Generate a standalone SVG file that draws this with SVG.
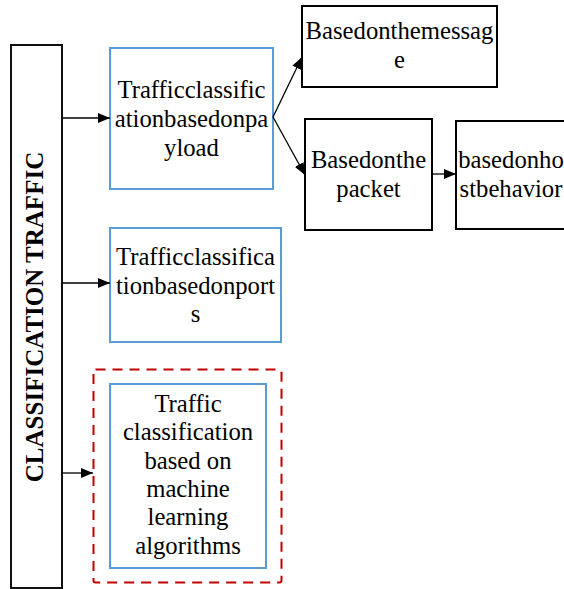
<svg xmlns="http://www.w3.org/2000/svg" width="564" height="589" viewBox="0 0 564 589">
<style>
.t{font-family:"Liberation Serif",serif;font-size:24.7px;fill:#000;text-anchor:middle}
.h{font-family:"Liberation Serif",serif;font-size:25px;font-weight:bold;fill:#000;text-anchor:middle}
.b{fill:#fff;stroke:#5B9BD5;stroke-width:2}
.k{fill:#fff;stroke:#000;stroke-width:2}
.c{fill:none;stroke:#000;stroke-width:1.3}
</style>
<defs>
<marker id="ah" viewBox="0 0 12 10" refX="12" refY="5" markerWidth="12" markerHeight="10" markerUnits="userSpaceOnUse" orient="auto">
<path d="M0,0 L12,5 L0,10 Z" fill="#000"/>
</marker>
</defs>
<g id="root">
<rect x="11" y="45" width="51" height="543" fill="#fff" stroke="#111" stroke-width="2"/>
<text class="h" transform="translate(43,317) rotate(-90)">CLASSIFICATION TRAFFIC</text>
</g>
<g id="payload">
<rect class="b" x="110" y="48" width="163" height="141"/>
<text class="t" x="191.5" y="98">Trafficclassific</text>
<text class="t" x="191.5" y="127">ationbasedonpa</text>
<text class="t" x="191.5" y="156">yload</text>
</g>
<g id="message">
<rect class="k" x="302" y="6" width="195" height="81"/>
<text class="t" x="399.5" y="39">Basedonthemessag</text>
<text class="t" x="399.5" y="68">e</text>
</g>
<g id="packet">
<rect class="k" x="305" y="119" width="127" height="111"/>
<text class="t" x="368.5" y="168">Basedonthe</text>
<text class="t" x="368.5" y="197">packet</text>
</g>
<g id="host">
<rect class="k" x="456" y="121" width="115" height="108"/>
<text class="t" x="511" y="168">basedonho</text>
<text class="t" x="511" y="197">stbehavior</text>
</g>
<g id="ports">
<rect class="b" x="110" y="228" width="171" height="114"/>
<text class="t" x="195.5" y="265">Trafficclassifica</text>
<text class="t" x="195.5" y="294">tionbasedonport</text>
<text class="t" x="195.5" y="322">s</text>
</g>
<g id="ml">
<rect x="93.5" y="369.5" width="188" height="213" rx="2" fill="none" stroke="#C00000" stroke-width="2" stroke-dasharray="10,7"/>
<rect class="b" x="110" y="384" width="156" height="184"/>
<text class="t" x="188" y="412">Traffic</text>
<text class="t" x="188" y="440">classification</text>
<text class="t" x="188" y="469">based on</text>
<text class="t" x="188" y="497">machine</text>
<text class="t" x="188" y="525">learning</text>
<text class="t" x="188" y="554">algorithms</text>
</g>
<g id="connectors">
<line class="c" x1="62" y1="118" x2="110" y2="118" marker-end="url(#ah)"/>
<line class="c" x1="62" y1="283" x2="110" y2="283" marker-end="url(#ah)"/>
<line class="c" x1="62" y1="473" x2="93" y2="473" marker-end="url(#ah)"/>
<line class="c" x1="273" y1="117" x2="302" y2="57" marker-end="url(#ah)"/>
<line class="c" x1="273" y1="117" x2="305" y2="175" marker-end="url(#ah)"/>
<line class="c" x1="432" y1="174" x2="456" y2="174" marker-end="url(#ah)"/>
</g>
</svg>
